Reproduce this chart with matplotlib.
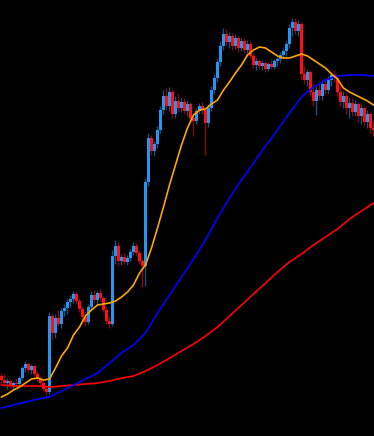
import matplotlib
matplotlib.use("Agg")
import matplotlib.pyplot as plt
import numpy as np

# OHLC candles (price units)
opens = [60, 56, 53, 55, 50, 53, 52, 58, 68, 72, 66, 70, 62, 57, 53, 47, 44, 120, 103, 118,
         112, 125, 128, 134, 137, 142, 135, 127, 119, 114, 129, 141, 136, 143, 138, 126, 115, 112, 180, 190,
         175, 179, 174, 178, 184, 190, 183, 175, 170, 254, 298, 285, 292, 306, 326, 340, 330, 344, 322, 335,
         328, 334, 325, 332, 318, 315, 325, 330, 326, 313, 328, 346, 358, 374, 390, 402, 394, 400, 390, 398,
         388, 395, 386, 392, 380, 371, 375, 370, 373, 367, 372, 369, 375, 377, 381, 385, 392, 408, 414, 405,
         412, 362, 356, 364, 344, 335, 346, 340, 352, 346, 356, 361, 358, 344, 334, 340, 328, 333, 324, 332,
         320, 328, 314, 322, 308]
highs = [63, 62, 58, 57, 55, 58, 60, 70, 75, 74, 72, 71, 65, 60, 56, 50, 124, 123, 122, 126,
         128, 132, 137, 141, 145, 144, 138, 130, 123, 132, 145, 146, 145, 147, 140, 129, 120, 186, 196, 194,
         182, 183, 181, 187, 194, 193, 186, 178, 258, 303, 301, 295, 310, 330, 346, 348, 349, 347, 340, 342,
         338, 338, 336, 334, 322, 328, 333, 334, 328, 332, 350, 362, 378, 395, 408, 407, 404, 403, 402, 400,
         398, 398, 396, 395, 383, 378, 377, 376, 375, 374, 376, 377, 379, 384, 388, 395, 412, 418, 418, 416,
         414, 370, 367, 366, 352, 350, 355, 356, 358, 360, 364, 366, 360, 350, 345, 343, 338, 338, 336, 334,
         332, 330, 326, 324, 316]
lows = [52, 50, 47, 48, 46, 50, 50, 56, 64, 63, 62, 60, 55, 50, 45, 41, 42, 96, 98, 110,
        108, 120, 122, 129, 133, 132, 124, 116, 110, 112, 126, 133, 131, 135, 124, 112, 108, 110, 172, 170,
        171, 172, 171, 175, 181, 180, 172, 149, 150, 250, 281, 280, 288, 303, 322, 326, 325, 318, 318, 324,
        324, 322, 320, 314, 300, 312, 322, 322, 281, 309, 325, 342, 354, 370, 386, 390, 388, 386, 387, 384,
        385, 383, 383, 378, 368, 366, 367, 366, 364, 365, 367, 367, 370, 373, 378, 380, 388, 400, 402, 400,
        356, 352, 350, 340, 330, 321, 336, 336, 342, 343, 350, 354, 340, 330, 328, 322, 318, 320, 320, 314,
        312, 310, 308, 303, 300]
closes = [56, 53, 55, 50, 53, 52, 58, 68, 72, 66, 70, 62, 57, 53, 47, 44, 120, 103, 118, 112,
          125, 128, 134, 137, 142, 135, 127, 119, 114, 129, 141, 136, 143, 138, 126, 115, 112, 180, 190, 175,
          179, 174, 178, 184, 190, 183, 175, 170, 254, 298, 285, 292, 306, 326, 340, 330, 344, 322, 335, 328,
          334, 325, 332, 318, 315, 325, 330, 326, 313, 328, 346, 358, 374, 390, 402, 394, 400, 390, 398, 388,
          395, 386, 392, 380, 371, 375, 370, 373, 367, 372, 369, 375, 377, 381, 385, 392, 408, 414, 405, 412,
          362, 356, 364, 344, 335, 346, 340, 352, 346, 356, 361, 358, 344, 334, 340, 328, 333, 324, 332, 320,
          328, 314, 322, 308, 306]

# Fast moving average, read at every second candle
fast_idx = list(range(0, 125, 2))
ma_fast = [39, 42, 46, 49, 53, 57, 58, 56, 57, 68, 80, 88, 101, 109, 120, 126, 131, 132, 133, 135,
           139, 144, 151, 163, 171, 188, 208, 229, 251, 271, 291, 308, 321, 326, 327, 332, 336, 346, 354, 363,
           371, 381, 386, 389, 388, 384, 380, 378, 378, 380, 382, 380, 376, 372, 368, 362, 357, 348, 344, 341,
           338, 335, 331]

# Medium and slow moving averages, read at every fourth candle
ma_idx = [0, 4, 8, 12, 16, 20, 24, 28, 32, 36, 40, 44, 48, 52, 56, 60, 64, 68, 72,
          76, 80, 84, 88, 92, 96, 100, 104, 108, 112, 116, 120, 124]
ma_mid = [28, 31, 34, 37, 39, 45, 51, 57, 63, 73, 83, 91, 103, 123, 141, 159, 177, 196, 218,
          238, 256, 273, 290, 306, 323, 339, 349, 356, 360, 361, 361, 360]
ma_slow = [51, 50, 50, 50, 49, 50, 51, 52, 53, 55, 58, 60, 65, 71, 78, 85, 92, 100, 109,
           120, 131, 142, 153, 164, 174, 182, 191, 199, 207, 217, 225, 233]

UP = "#2196F3"
DOWN = "#FF1010"

fig = plt.figure(figsize=(3.74, 4.36), dpi=100, facecolor="black")
ax = fig.add_axes([0, 0, 1, 1])
ax.set_facecolor("black")

n = len(closes)
x = np.arange(n)
o = np.array(opens, float)
c = np.array(closes, float)
hi = np.array(highs, float)
lo = np.array(lows, float)
up = c >= o
cols = np.where(up, UP, DOWN)

ax.vlines(x, lo, hi, colors=cols, linewidth=1.0, alpha=0.55, zorder=2)
ax.bar(x, np.abs(c - o) + 0.8, bottom=np.minimum(o, c) - 0.4, width=0.8,
       color=cols, edgecolor="none", zorder=3)

ax.plot(ma_idx, ma_slow, color="#FF0000", lw=1.2, zorder=4)
ax.plot(ma_idx, ma_mid, color="#0000FF", lw=1.2, zorder=4)
ax.plot(fast_idx, ma_fast, color="#FFA500", lw=1.2, zorder=5)

ax.set_xlim(-0.5, 124.17)
ax.set_ylim(0, 436)
ax.axis("off")

fig.savefig("out.png", dpi=100, facecolor="black")
